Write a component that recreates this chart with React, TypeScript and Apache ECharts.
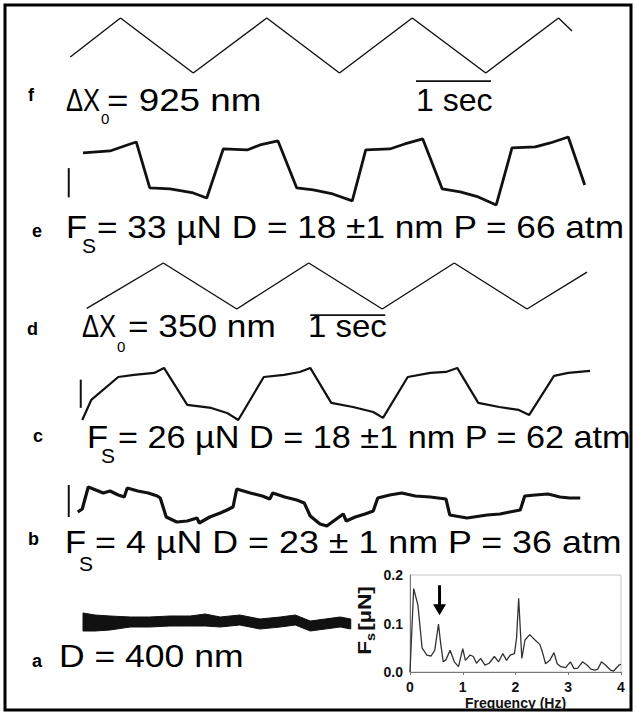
import React, { useEffect, useRef } from "react";
import * as echarts from "echarts";

// ---------- data ----------
// time in seconds, displacement in nm, force in µN
const fTime = [0.27, 0.94, 1.91, 2.89, 3.86, 4.83, 5.81, 6.78, 6.96];
const fDisp = [-194, 462, -462, 462, -462, 462, -462, 462, 244];

const eTime = [0.44, 0.8, 1.03, 1.15, 1.33, 1.6, 1.91, 2.09, 2.31, 2.63, 2.8, 3.04, 3.29, 3.51, 3.77, 4.03, 4.21, 4.53, 4.73, 4.97, 5.23, 5.47, 5.71, 5.95, 6.16, 6.47, 6.67, 6.91, 7.13];
const eForce = [24.7, 27.3, 35.1, 39, -20.8, -22.1, -27.3, -33.8, 29.9, 28.6, 35.1, 40.3, -20.8, -23.4, -28.6, -37.7, 28.6, 29.9, 36.4, 42.9, -22.1, -26, -32.5, -42.9, 31.2, 32.5, 37.7, 45.5, -16.9];

const dTime = [0.49, 1.51, 2.49, 3.45, 4.43, 5.39, 6.36, 7.16];
const dDisp = [-170, 175, -175, 175, -175, 175, -175, 105];

const cTime = [0.43, 0.55, 0.91, 1.12, 1.39, 1.52, 1.83, 2.15, 2.36, 2.51, 2.85, 3.12, 3.33, 3.47, 3.75, 4.04, 4.31, 4.44, 4.77, 5.07, 5.28, 5.43, 5.71, 5.99, 6.25, 6.39, 6.72, 6.91, 7.2];
const cForce = [-31, -6.2, 22.3, 24.8, 27.3, 33.5, -12.4, -16.1, -22.3, -31, 22.3, 24.8, 28.5, 33.5, -9.9, -14.9, -21.1, -28.5, 22.3, 27.3, 28.5, 33.5, -9.9, -14.9, -18.6, -24.8, 23.6, 27.3, 29.8];

const bTime = [0.37, 0.43, 0.51, 0.61, 0.71, 0.8, 0.91, 0.99, 1.03, 1.17, 1.31, 1.43, 1.47, 1.55, 1.69, 1.83, 1.96, 1.99, 2.13, 2.27, 2.36, 2.44, 2.49, 2.67, 2.83, 2.93, 2.97, 3.13, 3.29, 3.39, 3.47, 3.6, 3.69, 3.8, 3.91, 3.95, 4.07, 4.2, 4.31, 4.37, 4.53, 4.69, 4.87, 5.07, 5.28, 5.33, 5.56, 5.83, 6.0, 6.13, 6.27, 6.33, 6.47, 6.64, 6.8, 6.93, 7.07];
const bForce = [-1.75, -1.0, 4.5, 3.75, 3.0, 3.5, 2.5, 2.0, 4.25, 3.5, 3.0, 2.25, 1.75, -3.0, -4.25, -4.0, -3.25, -4.5, -3.0, -2.0, -1.25, -0.5, 4.0, 3.0, 2.25, 1.5, 3.0, 2.0, 1.25, 0.5, -2.75, -4.75, -5.25, -3.75, -2.25, -4.0, -3.0, -2.25, -1.5, 1.75, 2.5, 3.0, 2.25, 2.0, 1.5, -2.5, -3.25, -2.5, -2.25, -1.75, -1.25, 2.25, 2.5, 2.75, 2.0, 1.75, 1.75];

// trace a: noise band (upper / lower envelope)
const aTime = [0.44, 0.6, 0.8, 1.07, 1.33, 1.6, 1.87, 2.07, 2.27, 2.53, 2.8, 3.07, 3.27, 3.47, 3.67, 3.87, 4.01];
const aUpper = [6.75, 6.25, 6.0, 5.75, 5.75, 6.0, 6.0, 6.5, 5.75, 6.25, 5.25, 5.75, 6.25, 4.75, 5.25, 5.75, 5.25];
const aLower = [2.25, 2.25, 2.5, 3.25, 3.25, 3.5, 3.5, 3.5, 3.25, 3.75, 2.75, 3.25, 3.75, 2.25, 2.75, 3.25, 2.75];

// scale bars
const eScaleBar = [[0.25, 5], [0.25, -33]];
const cScaleBar = [[0.41, 19], [0.41, -16]];
const bScaleBar = [[0.25, 5], [0.25, -3]];
const fSecBar = [[4.88, -597], [5.88, -597]];
const dSecBar = [[3.47, -221], [4.47, -221]];

// inset spectrum
const specFreq = [0.0, 0.07, 0.15, 0.23, 0.32, 0.4, 0.47, 0.54, 0.58, 0.63, 0.68, 0.76, 0.84, 0.92, 1.0, 1.05, 1.14, 1.2, 1.26, 1.34, 1.42, 1.5, 1.6, 1.68, 1.76, 1.83, 1.9, 1.98, 2.02, 2.06, 2.1, 2.12, 2.18, 2.27, 2.37, 2.46, 2.5, 2.57, 2.65, 2.73, 2.79, 2.86, 2.95, 3.04, 3.11, 3.18, 3.27, 3.36, 3.43, 3.5, 3.56, 3.63, 3.71, 3.8, 3.86, 3.96, 4.0];
const specAmp = [0.0, 0.172, 0.138, 0.049, 0.035, 0.033, 0.045, 0.099, 0.06, 0.021, 0.025, 0.045, 0.021, 0.011, 0.048, 0.024, 0.035, 0.032, 0.018, 0.028, 0.014, 0.018, 0.032, 0.021, 0.038, 0.024, 0.035, 0.038, 0.07, 0.152, 0.069, 0.028, 0.066, 0.077, 0.066, 0.057, 0.045, 0.017, 0.024, 0.04, 0.017, 0.011, 0.009, 0.021, 0.007, 0.008, 0.021, 0.014, 0.006, 0.004, 0.006, 0.021, 0.014, 0.004, 0.002, 0.014, 0.016];
const arrowAt = [0.56, 0.148];
const freqTicks = [0, 4, 1];
const ampTicks = [0, 0.2, 0.1];

const FONT = '"Liberation Sans", Arial, Helvetica, sans-serif';

const pairs = (t: number[], v: number[]) => t.map((x, k) => [x, v[k]]);

function txt(text: string, x: number, baseline: number, fs: number, sx = 1, bold = false) {
  return {
    type: "text",
    x,
    y: baseline - 0.35 * fs,
    scaleX: sx,
    silent: true,
    style: {
      text,
      fontSize: fs,
      fontFamily: FONT,
      fontWeight: bold ? "bold" : "normal",
      fill: "#000",
      align: "left",
      verticalAlign: "middle",
    },
  };
}

export default function App() {
  const ref = useRef<HTMLDivElement>(null);
  useEffect(() => {
    if (!ref.current) return;
    const chart = echarts.init(ref.current, undefined, { renderer: "svg" });

    const traceGrid = (top: number, height: number) => ({ left: 50, width: 555, top, height });
    const grids = [
      traceGrid(18, 55), // f
      traceGrid(133.5, 76.9), // e
      traceGrid(263, 46), // d
      traceGrid(362.7, 64.5), // c
      traceGrid(477, 56), // b
      traceGrid(600, 40), // a
      { left: 410, top: 575, width: 211, height: 97, show: true, borderColor: "#c4c4c4", borderWidth: 1 },
    ];
    const yRanges = [
      [-462, 462],
      [-50, 50],
      [-175, 175],
      [-40, 40],
      [-7, 7],
      [0, 10],
    ];
    const xAxes: any[] = yRanges.map((_, i) => ({ type: "value", gridIndex: i, min: 0, max: 7.4, show: false }));
    const yAxes: any[] = yRanges.map((r, i) => ({ type: "value", gridIndex: i, min: r[0], max: r[1], show: false }));
    xAxes.push({
      type: "value",
      gridIndex: 6,
      min: freqTicks[0],
      max: freqTicks[1],
      interval: freqTicks[2],
      axisLine: { show: true, lineStyle: { color: "#777", width: 1 } },
      axisTick: { show: true, length: 3, lineStyle: { color: "#777" } },
      splitLine: { show: false },
      axisLabel: { fontSize: 14, fontWeight: "bold", color: "#111", fontFamily: FONT, margin: 8 },
      name: "Frequency (Hz)",
      nameLocation: "middle",
      nameGap: 24,
      nameTextStyle: { fontSize: 14, fontWeight: "bold", color: "#111", fontFamily: FONT },
    });
    yAxes.push({
      type: "value",
      gridIndex: 6,
      min: ampTicks[0],
      max: ampTicks[1],
      interval: ampTicks[2],
      axisLine: { show: true, lineStyle: { color: "#777", width: 1 } },
      axisTick: { show: false },
      splitLine: { show: false },
      axisLabel: {
        fontSize: 14,
        fontWeight: "bold",
        color: "#111",
        fontFamily: FONT,
        margin: 7,
        formatter: (v: number) => v.toFixed(1),
      },
    });

    const line = (i: number, data: number[][], width: number, extra: any = {}) => ({
      type: "line",
      xAxisIndex: i,
      yAxisIndex: i,
      data,
      symbol: "none",
      silent: true,
      lineStyle: { color: "#111", width },
      ...extra,
    });

    const series: any[] = [
      line(0, pairs(fTime, fDisp), 1.4),
      line(0, fSecBar, 1.8, { clip: false }),
      line(1, pairs(eTime, eForce), 2.8),
      line(1, eScaleBar, 2, { clip: false }),
      line(2, pairs(dTime, dDisp), 1.4),
      line(2, dSecBar, 1.8, { clip: false }),
      line(3, pairs(cTime, cForce), 2.2),
      line(3, cScaleBar, 2, { clip: false }),
      line(4, pairs(bTime, bForce), 3.2),
      line(4, bScaleBar, 2, { clip: false }),
      {
        type: "custom",
        xAxisIndex: 5,
        yAxisIndex: 5,
        silent: true,
        clip: false,
        data: aTime.map((t, k) => [t, aUpper[k], aLower[k]]),
        encode: { x: 0, y: [1, 2] },
        renderItem: (params: any, api: any) => {
          if (params.dataIndex !== 0) return null;
          const up = aTime.map((t, k) => api.coord([t, aUpper[k]]));
          const lo = aTime.map((t, k) => api.coord([t, aLower[k]])).reverse();
          return {
            type: "polygon",
            shape: { points: up.concat(lo) },
            style: { fill: "#111", stroke: "#111", lineWidth: 1 },
          };
        },
      },
      line(6, pairs(specFreq, specAmp), 1.3, {
        lineStyle: { color: "#333", width: 1.3 },
        markPoint: {
          silent: true,
          symbol: "path://M5,0 L8,0 L8,19 L13,19 L6.5,30 L0,19 L5,19 Z",
          symbolSize: [13, 30],
          itemStyle: { color: "#000" },
          label: { show: false },
          data: [{ coord: arrowAt }],
        },
      }),
    ];

    const graphics: any[] = [
      {
        type: "rect",
        silent: true,
        shape: { x: 5, y: 5, width: 626, height: 705 },
        style: { fill: "none", stroke: "#000", lineWidth: 3 },
      },
      // panel letters
      txt("f", 28, 101, 18, 1, true),
      txt("e", 32, 237, 18, 1, true),
      txt("d", 27, 335, 18, 1, true),
      txt("c", 33, 442, 18, 1, true),
      txt("b", 28, 545, 18, 1, true),
      txt("a", 32, 667, 18, 1, true),
      // f line
      txt("ΔX", 66, 111, 32, 0.8),
      txt("0", 101, 124, 15),
      txt("= 925 nm", 107, 111, 32, 1.15),
      txt("1 sec", 416, 111, 32, 1.0),
      // e line
      txt("F", 66, 238, 32, 1.08),
      txt("S", 82, 253, 21),
      txt("= 33 µN D = 18 ±1 nm P = 66 atm", 97, 238, 32, 1.1),
      // d line
      txt("ΔX", 82, 337, 32, 0.8),
      txt("0", 117, 352, 15),
      txt("= 350 nm", 128, 337, 32, 1.1),
      txt("1 sec", 308, 337, 32, 1.03),
      // c line
      txt("F", 87, 448, 32, 1.08),
      txt("S", 101, 463, 21),
      txt("= 26 µN D = 18 ±1 nm P = 62 atm", 118, 448, 32, 1.07),
      // b line
      txt("F", 65, 553, 32, 1.08),
      txt("S", 79, 571, 21),
      txt("= 4 µN D = 23 ± 1 nm P = 36 atm", 95, 553, 32, 1.12),
      // a line
      txt("D = 400 nm", 59, 667, 32, 1.11),
      // inset y-axis title
      {
        type: "group",
        x: 364,
        y: 620,
        rotation: Math.PI / 2,
        scaleX: 1.2,
        silent: true,
        children: [
          { type: "text", x: -29, y: 0, style: { text: "F", fontSize: 19, fontWeight: "bold", fontFamily: FONT, fill: "#111", verticalAlign: "middle" } },
          { type: "text", x: -17.5, y: 7, style: { text: "s", fontSize: 12, fontWeight: "bold", fontFamily: FONT, fill: "#111", verticalAlign: "middle" } },
          { type: "text", x: -9, y: 0, style: { text: "[µN]", fontSize: 19, fontWeight: "bold", fontFamily: FONT, fill: "#111", verticalAlign: "middle" } },
        ],
      },
    ];

    chart.setOption({
      animation: false,
      backgroundColor: "#fff",
      grid: grids,
      xAxis: xAxes,
      yAxis: yAxes,
      series,
      graphic: graphics,
    });
    return () => chart.dispose();
  }, []);
  return <div ref={ref} style={{ position: "absolute", left: 0, top: 0, width: 636, height: 716 }} />;
}
